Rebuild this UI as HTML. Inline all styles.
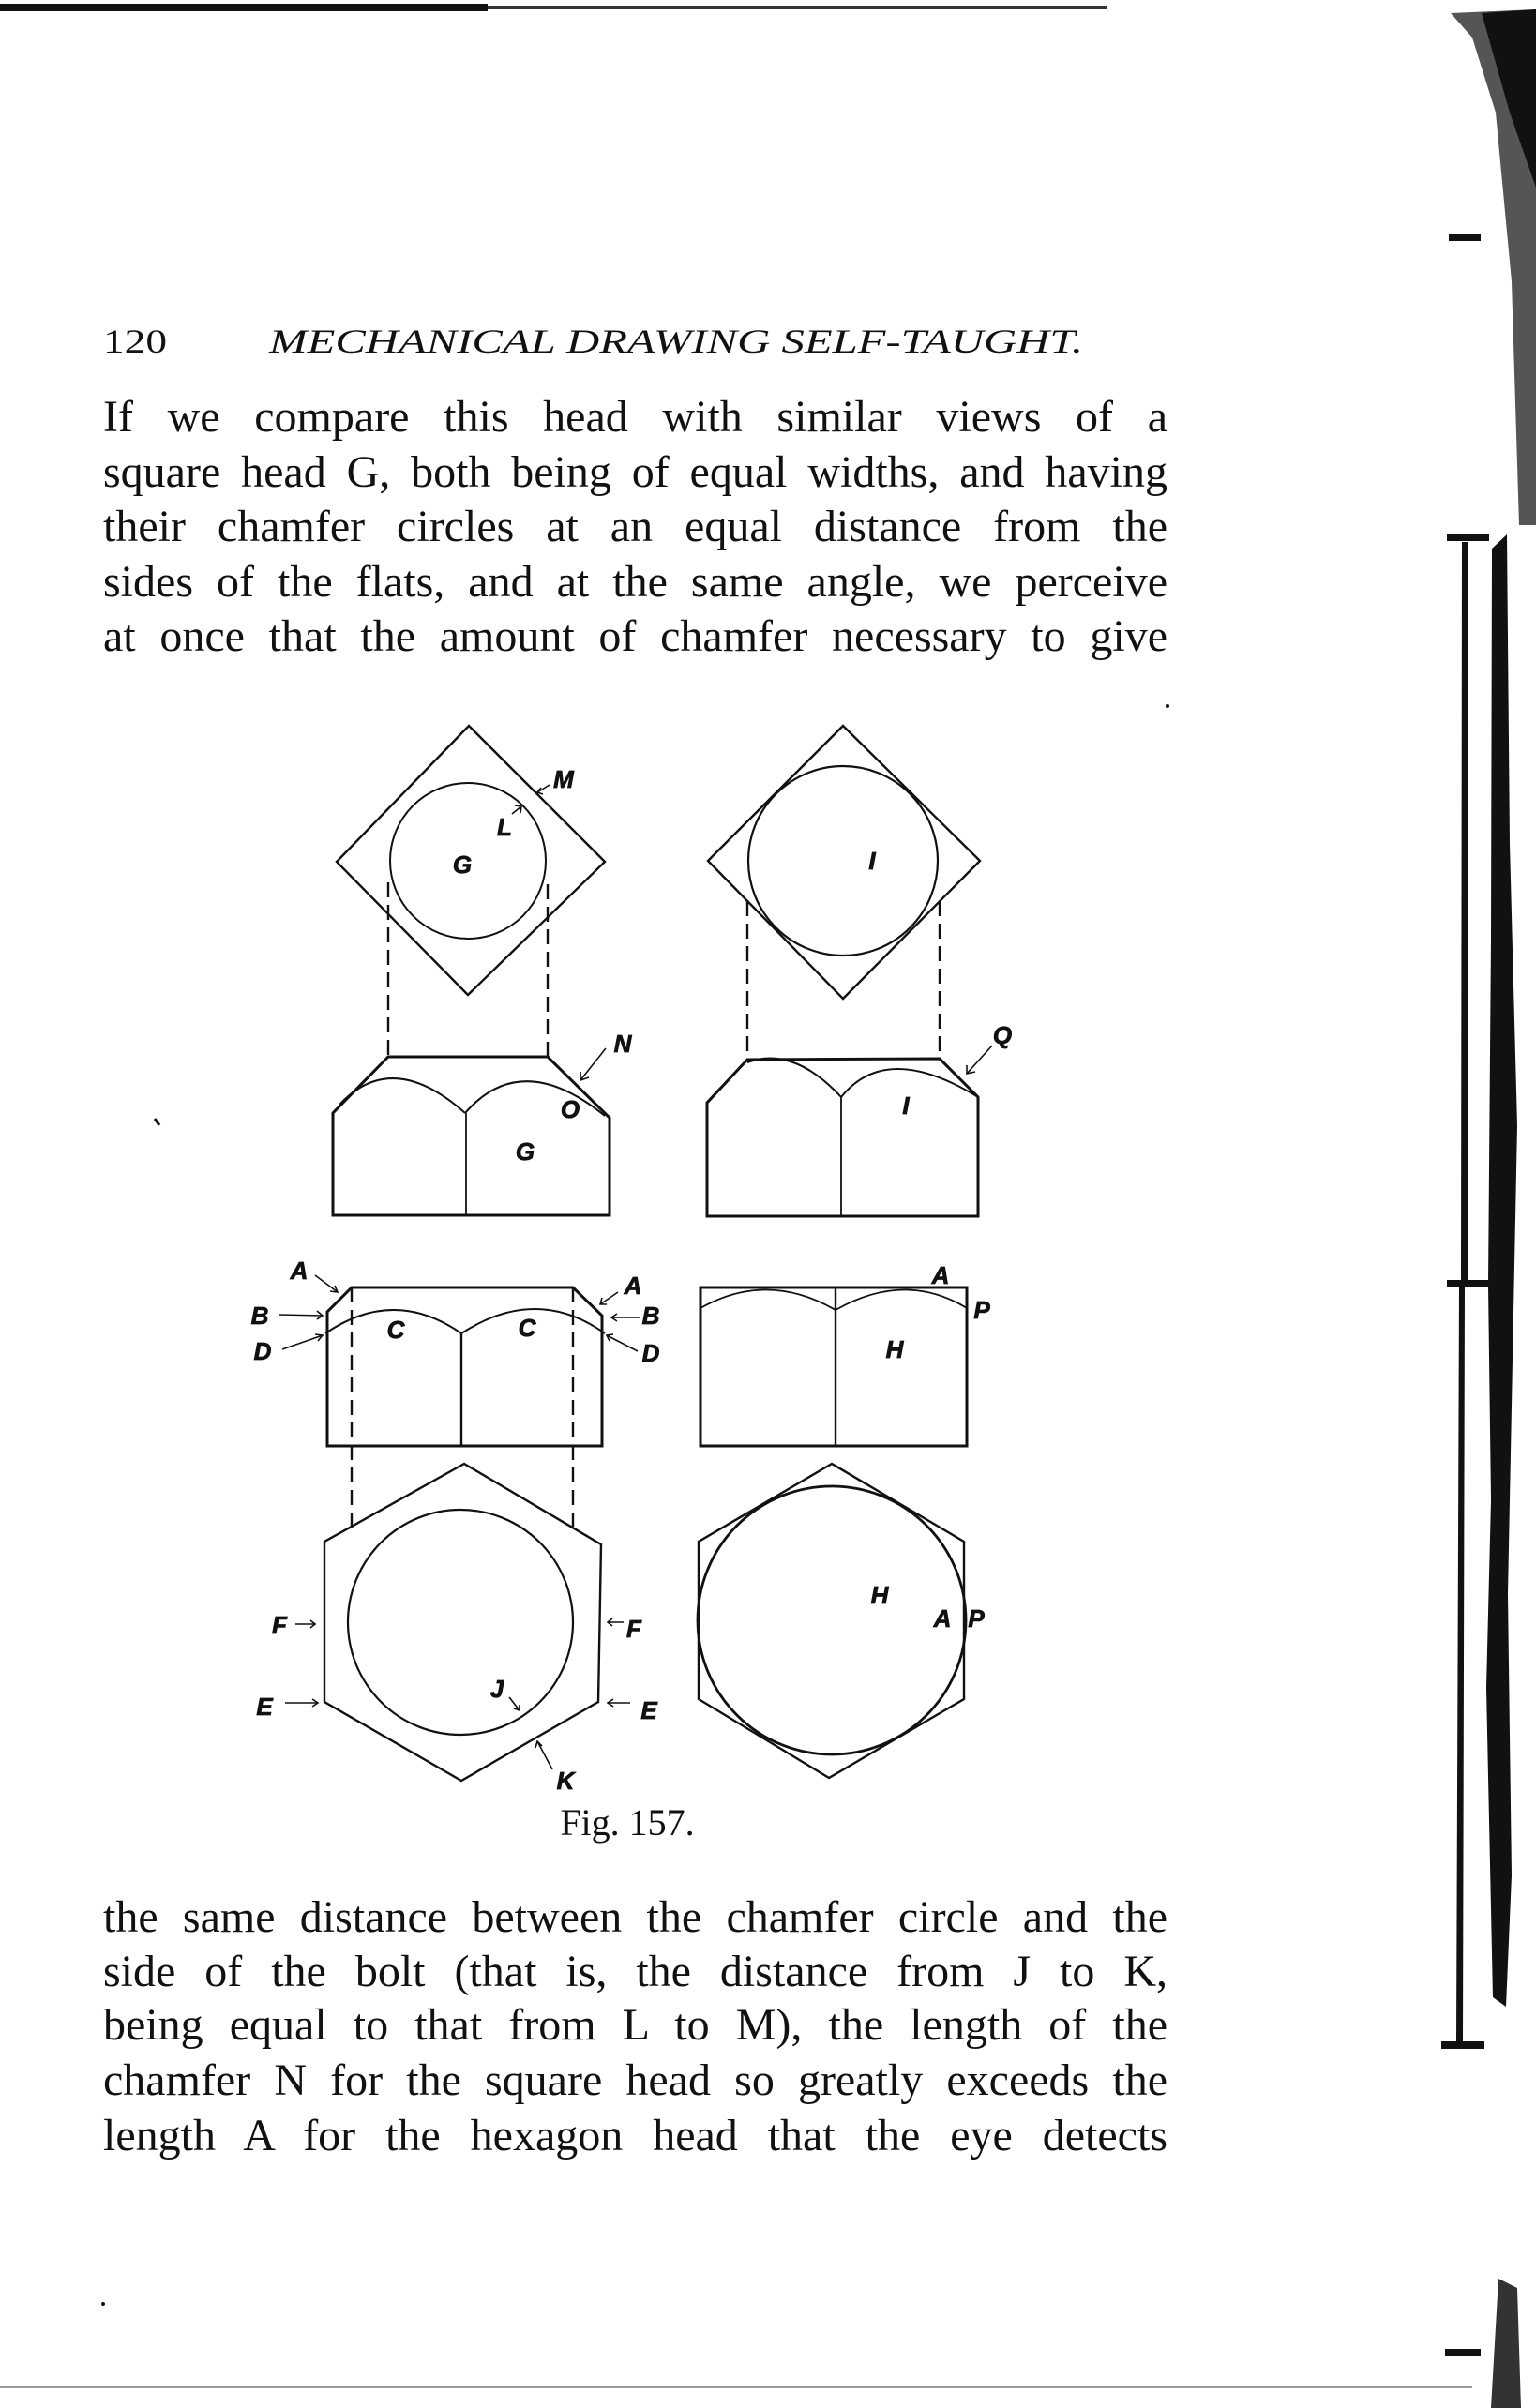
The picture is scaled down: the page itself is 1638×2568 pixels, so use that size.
<!DOCTYPE html>
<html><head><meta charset="utf-8">
<style>
html,body{margin:0;padding:0;background:#fff;}
body{width:1638px;height:2568px;position:relative;overflow:hidden;font-family:"Liberation Serif",serif;color:#111;}
.ln{position:absolute;left:110px;width:1135px;font-size:48px;line-height:58px;text-align:justify;text-align-last:justify;white-space:nowrap;}
svg{position:absolute;left:0;top:0;}
</style></head><body>

<div class="ln" style="top:416px;">If we compare this head with similar views of a</div>
<div class="ln" style="top:475px;">square head G, both being of equal widths, and having</div>
<div class="ln" style="top:533px;">their chamfer circles at an equal distance from the</div>
<div class="ln" style="top:592px;">sides of the flats, and at the same angle, we perceive</div>
<div class="ln" style="top:650px;">at once that the amount of chamfer necessary to give</div>

<div class="ln" style="top:2016px;">the same distance between the chamfer circle and the</div>
<div class="ln" style="top:2074px;">side of the bolt (that is, the distance from J to K,</div>
<div class="ln" style="top:2131px;">being equal to that from L to M), the length of the</div>
<div class="ln" style="top:2190px;">chamfer N for the square head so greatly exceeds the</div>
<div class="ln" style="top:2249px;">length A for the hexagon head that the eye detects</div>

<svg width="1638" height="2568" viewBox="0 0 1638 2568">
<text x="110" y="376" font-family="Liberation Serif, serif" font-size="36" fill="#111" textLength="68" lengthAdjust="spacingAndGlyphs">120</text>
<text x="287" y="376" font-family="Liberation Serif, serif" font-size="36" font-style="italic" fill="#111" textLength="868" lengthAdjust="spacingAndGlyphs">MECHANICAL DRAWING SELF-TAUGHT.</text>
<rect x="0" y="4" width="520" height="8" fill="#111"/>
<rect x="520" y="6" width="660" height="4" fill="#333"/>
<rect x="0" y="2545" width="1570" height="2" fill="#999"/>
<circle cx="1245" cy="753" r="2" fill="#111"/>
<line x1="165" y1="1193" x2="170" y2="1200" stroke="#111" stroke-width="3"/>
<circle cx="110" cy="2457" r="2" fill="#111"/>

<path d="M1547,14 L1638,10 L1638,560 L1620,560 L1612,300 L1595,120 L1570,40 Z" fill="#555"/>
<path d="M1580,14 L1638,10 L1638,200 L1610,120 Z" fill="#111"/>
<rect x="1545" y="250" width="34" height="7" fill="#111"/>
<rect x="1543" y="570" width="45" height="7" fill="#111"/>
<path d="M1559,578 L1566,578 L1565,1365 L1558,1365 Z" fill="#111"/>
<path d="M1591,585 L1607,570 L1610,900 L1618,1200 L1614,1400 L1608,1700 L1612,2000 L1606,2140 L1592,2130 L1585,1800 L1590,1600 L1587,1370 L1590,1000 Z" fill="#111"/>
<rect x="1543" y="1365" width="47" height="8" fill="#111"/>
<path d="M1556,1373 L1562,1373 L1560,2180 L1553,2180 Z" fill="#111"/>
<rect x="1537" y="2177" width="46" height="8" fill="#111"/>
<rect x="1541" y="2505" width="38" height="8" fill="#111"/>
<path d="M1598,2430 L1618,2440 L1622,2568 L1590,2568 Z" fill="#333"/>

<g fill="none" stroke="#111" stroke-width="2.4">
<polygon points="500,774 645,919 499,1061 359,919"/>
<circle cx="499" cy="918" r="83" stroke-width="2"/>
<line x1="414" y1="941" x2="414" y2="1127" stroke-dasharray="16,8"/>
<line x1="584" y1="943" x2="584" y2="1127" stroke-dasharray="16,8"/>
<path d="M355,1296 L355,1187 L414,1127 L584,1127 L650,1192 L650,1296 Z" stroke-width="3"/>
<line x1="497" y1="1187" x2="497" y2="1296" stroke-width="1.8"/>
<path d="M362,1178 Q418,1118 496,1187" stroke-width="2"/>
<path d="M496,1187 Q556,1118 645,1190" stroke-width="2"/>

<polygon points="899,774 1045,918 899,1065 755,918"/>
<circle cx="899" cy="918" r="101" stroke-width="2.2"/>
<line x1="797" y1="961" x2="797" y2="1129" stroke-dasharray="16,8"/>
<line x1="1002" y1="961" x2="1002" y2="1129" stroke-dasharray="16,8"/>
<path d="M754,1297 L754,1176 L797,1130 L1002,1129 L1043,1170 L1043,1297 Z" stroke-width="3"/>
<line x1="897" y1="1170" x2="897" y2="1297" stroke-width="1.8"/>
<path d="M797,1133 Q846,1115 897,1170" stroke-width="2"/>
<path d="M897,1170 Q945,1110 1043,1170" stroke-width="2"/>

<path d="M349,1542 L349,1399 L375,1373 L611,1373 L642,1403 L642,1542 Z" stroke-width="3"/>
<line x1="492" y1="1422" x2="492" y2="1542" stroke-width="2.4"/>
<path d="M347,1422 Q420,1372 492,1422" stroke-width="2"/>
<path d="M492,1422 Q572,1370 645,1422" stroke-width="2"/>
<line x1="375" y1="1373" x2="375" y2="1630" stroke-dasharray="16,8"/>
<line x1="611" y1="1373" x2="611" y2="1628" stroke-dasharray="16,8"/>
<polygon points="495,1561 641,1647 638,1815 492,1899 346,1815 346,1644"/>
<circle cx="491" cy="1730" r="120" stroke-width="2.2"/>

<rect x="747" y="1373" width="284" height="169" stroke-width="3"/>
<line x1="891" y1="1373" x2="891" y2="1542" stroke-width="2.4"/>
<path d="M747,1395 Q818,1355 891,1397" stroke-width="1.8"/>
<path d="M891,1397 Q965,1355 1031,1395" stroke-width="1.8"/>
<polygon points="887,1561 1028,1644 1028,1812 884,1896 745,1812 745,1644"/>
<circle cx="887" cy="1728" r="143" stroke-width="2.8"/>
</g>

<g fill="none" stroke="#111" stroke-width="1.6">
<line x1="546" y1="868" x2="556" y2="860"/><path d="M549,859 L556,860 L555,867"/>
<line x1="586" y1="837" x2="573" y2="845"/><path d="M577,840 L573,845 L579,847"/>
<line x1="646" y1="1118" x2="619" y2="1152"/><path d="M619,1143 L619,1152 L628,1149"/>
<line x1="1058" y1="1115" x2="1031" y2="1145"/><path d="M1031,1136 L1031,1145 L1040,1143"/>
<line x1="336" y1="1360" x2="360" y2="1378"/><path d="M352,1377 L360,1378 L357,1371"/>
<line x1="298" y1="1402" x2="344" y2="1403"/><path d="M338,1398 L344,1403 L338,1407"/>
<line x1="301" y1="1439" x2="344" y2="1424"/><path d="M336,1423 L344,1424 L339,1430"/>
<line x1="659" y1="1378" x2="640" y2="1391"/><path d="M642,1384 L640,1391 L647,1391"/>
<line x1="683" y1="1405" x2="652" y2="1405"/><path d="M658,1401 L652,1405 L658,1409"/>
<line x1="680" y1="1441" x2="647" y2="1424"/><path d="M650,1430 L647,1424 L654,1423"/>
<line x1="315" y1="1732" x2="336" y2="1732"/><path d="M331,1728 L336,1732 L331,1736"/>
<line x1="665" y1="1730" x2="648" y2="1730"/><path d="M653,1726 L648,1730 L653,1734"/>
<line x1="304" y1="1816" x2="339" y2="1816"/><path d="M333,1812 L339,1816 L333,1820"/>
<line x1="672" y1="1816" x2="648" y2="1816"/><path d="M654,1812 L648,1816 L654,1820"/>
<line x1="543" y1="1810" x2="554" y2="1824"/><path d="M548,1822 L554,1824 L554,1818"/>
<line x1="589" y1="1887" x2="573" y2="1857"/><path d="M571,1864 L573,1857 L578,1862"/>
</g>

<g font-family="Liberation Sans, sans-serif" font-weight="bold" font-style="italic" font-size="26" fill="#111" text-anchor="middle" dominant-baseline="central" stroke="#111" stroke-width="0.8">
<text x="493" y="922">G</text>
<text x="538" y="882">L</text>
<text x="601" y="831">M</text>
<text x="664" y="1113">N</text>
<text x="608" y="1183">O</text>
<text x="560" y="1228">G</text>
<text x="930" y="918">I</text>
<text x="1069" y="1104">Q</text>
<text x="966" y="1179">I</text>
<text x="319" y="1355">A</text>
<text x="277" y="1403">B</text>
<text x="280" y="1441">D</text>
<text x="675" y="1371">A</text>
<text x="694" y="1403">B</text>
<text x="694" y="1443">D</text>
<text x="422" y="1418">C</text>
<text x="562" y="1416">C</text>
<text x="1003" y="1360">A</text>
<text x="1047" y="1397">P</text>
<text x="954" y="1439">H</text>
<text x="298" y="1733">F</text>
<text x="676" y="1737">F</text>
<text x="282" y="1820">E</text>
<text x="692" y="1824">E</text>
<text x="530" y="1801">J</text>
<text x="603" y="1899">K</text>
<text x="938" y="1701">H</text>
<text x="1005" y="1726">A</text>
<text x="1041" y="1726">P</text>
</g>
<text x="669" y="1957" font-family="Liberation Serif, serif" font-size="40" text-anchor="middle" fill="#111">Fig. 157.</text>
</svg>
</body></html>
